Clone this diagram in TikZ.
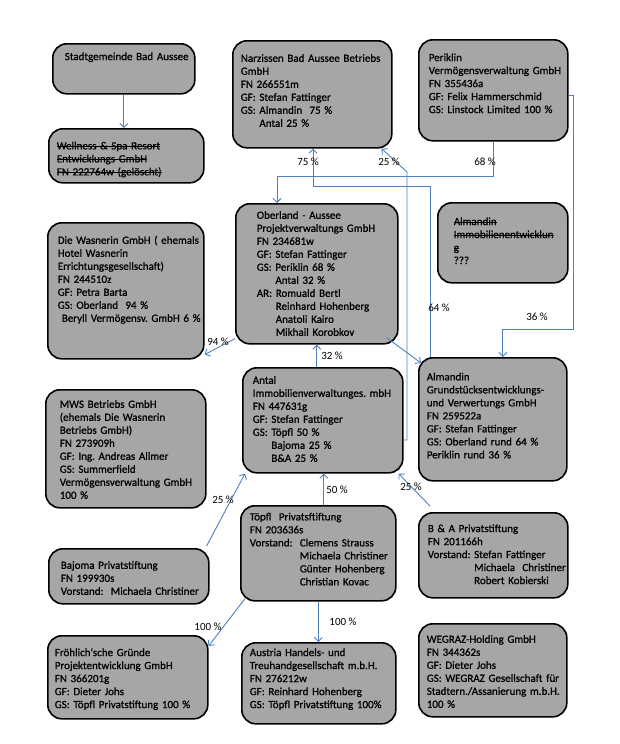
\documentclass[tikz,border=0pt]{standalone}
\usepackage{fontspec}
\setmainfont{Carlito}[BoldFont=Carlito, BoldFeatures={FakeBold=0.9}]
\usetikzlibrary{arrows.meta}
\frenchspacing

\definecolor{boxgray}{RGB}{166,166,166}
\definecolor{linkblue}{RGB}{79,129,189}

% lines of a box, never wrapped
\newcommand{\rows}[1]{\begin{tabular}[t]{@{}l@{}}#1\end{tabular}}
% struck-out text
\newsavebox{\strikebox}
\newcommand{\strike}[1]{\sbox{\strikebox}{#1}\rlap{\rule[2.9pt]{\wd\strikebox}{0.7pt}}\usebox{\strikebox}}

\begin{document}
\begin{tikzpicture}[x=1pt, y=-1pt,
  firm/.style={draw=black, line width=1.6pt, fill=boxgray, rounded corners=14pt,
    anchor=north west, inner ysep=0pt, align=left, font=\fontsize{11}{13}\selectfont\bfseries},
  boxdim/.style n args={4}{text width=#1, inner xsep=#2, text height=#3, text depth=#4},
  share/.style={draw=linkblue, line width=0.9pt, -{Straight Barb[length=4pt, width=8pt]}},
  pct/.style={font=\fontsize{11}{13}\selectfont, inner sep=0pt}]

\fill[white] (0,0) rectangle (619,744);

% top row
\node[firm, boxdim={118pt}{12pt}{16.3pt}{33.7pt}] (stadt) at (52,43)
  {\rows{Stadtgemeinde Bad Aussee}};
\node[firm, boxdim={139pt}{8pt}{20.6pt}{33.4pt}] (well) at (48,128)
  {\rows{\strike{Wellness \& Spa Resort}\\ \strike{Entwicklungs GmbH}\\ \strike{FN 222764w (gelöscht)}}};
\node[firm, boxdim={143pt}{8pt}{21pt}{86pt}] (narz) at (232,40)
  {\rows{Narzissen Bad Aussee Betriebs\\ GmbH\\ FN 266551m\\ GF: Stefan Fattinger\\
   GS: Almandin~~75 \%\\ \phantom{GS: }Antal 25 \%}};
\node[firm, boxdim={129pt}{10pt}{21.3pt}{79.7pt}] (peri) at (418,39)
  {\rows{Periklin\\ Vermögensverwaltung GmbH\\ FN 355436a\\ GF: Felix Hammerschmid\\
   GS: Linstock Limited 100 \%}};
\node[firm, boxdim={98pt}{16pt}{22.3pt}{57.7pt}] (almimmo) at (437,202)
  {\rows{\strike{Almandin}\\ \strike{Immobilienentwicklun}\\ \strike{g}\\ ???}};

% middle
\node[firm, boxdim={136pt}{10pt}{21pt}{115pt}] (wasn) at (47,222)
  {\rows{Die Wasnerin GmbH ( ehemals\\ Hotel Wasnerin\\ Errichtungsgesellschaft)\\ FN 244510z\\
   GF: Petra Barta\\ GS: Oberland~~94 \%\\ \hspace*{4pt}Beryll Vermögensv. GmbH 6 \%}};
\node[firm, boxdim={120pt}{21pt}{15pt}{125pt}] (ober) at (235,203)
  {\rows{Oberland - Aussee\\ Projektverwaltungs GmbH\\ FN 234681w\\ GF: Stefan Fattinger\\
   GS: Periklin 68 \%\\ \phantom{GS: }Antal 32 \%\\ AR: Romuald Bertl\\
   \phantom{AR: }Reinhard Hohenberg\\ \phantom{AR: }Anatoli Kairo\\ \phantom{AR: }Mikhail Korobkov}};
\node[firm, boxdim={140pt}{10pt}{16pt}{89pt}] (antal) at (242,367)
  {\rows{Antal\\ Immobilienverwaltunges. mbH\\ FN 447631g\\ GF: Stefan Fattinger\\
   GS: Töpfl 50 \%\\ \phantom{GS: }Bajoma 25 \%\\ \phantom{GS: }B\&A 25 \%}};
\node[firm, boxdim={132pt}{8pt}{22.6pt}{100.4pt}] (alm) at (418,357)
  {\rows{Almandin\\ Grundstücksentwicklungs-\\ und Verwertungs GmbH\\ FN 259522a\\
   GF: Stefan Fattinger\\ GS: Oberland rund 64 \%\\ Periklin rund 36 \%}};
\node[firm, boxdim={132pt}{14pt}{18pt}{100pt}] (mws) at (45,389)
  {\rows{MWS Betriebs GmbH\\ (ehemals Die Wasnerin\\ Betriebs GmbH)\\ FN 273909h\\
   GF: Ing. Andreas Allmer\\ GS: Summerfield\\ Vermögensverwaltung GmbH\\ 100 \%}};

% bottom
\node[firm, boxdim={137pt}{9pt}{14.6pt}{80.4pt}] (toepfl) at (240,505)
  {\rows{Töpfl~~Privatsftiftung\\ FN 203636s\\ Vorstand:~~Clemens Strauss\\
   \phantom{Vorstand:~~}Michaela Christiner\\ \phantom{Vorstand:~~}Günter Hohenberg\\
   \phantom{Vorstand:~~}Christian Kovac}};
\node[firm, boxdim={131pt}{9pt}{19.3pt}{65.7pt}] (ba) at (418,512)
  {\rows{B \& A Privatstiftung\\ FN 201166h\\ Vorstand: Stefan Fattinger\\
   \phantom{Vorstand: }Michaela~~Christiner\\ \phantom{Vorstand: }Robert Kobierski}};
\node[firm, boxdim={136pt}{12pt}{20pt}{35pt}] (bajoma) at (48,548)
  {\rows{Bajoma Privatstiftung\\ FN 199930s\\ Vorstand:~~Michaela Christiner}};
\node[firm, boxdim={146pt}{7pt}{20.3pt}{62.7pt}] (froe) at (47,635)
  {\rows{Fröhlich‘sche Gründe\\ Projektentwicklung GmbH\\ FN 366201g\\ GF: Dieter Johs\\
   GS: Töpfl Privatstiftung 100 \%}};
\node[firm, boxdim={138pt}{8pt}{13.3pt}{67.7pt}] (austria) at (241,642)
  {\rows{Austria Handels- und\\ Treuhandgesellschaft m.b.H.\\ FN 276212w\\
   GF: Reinhard Hohenberg\\ GS: Töpfl Privatstiftung 100\%}};
\node[firm, boxdim={132pt}{8pt}{19pt}{74pt}] (wegraz) at (418,623)
  {\rows{WEGRAZ-Holding GmbH\\ FN 344362s\\ GF: Dieter Johs\\ GS: WEGRAZ Gesellschaft für\\
   Stadtern./Assanierung m.b.H.\\ 100 \%}};

% bend points of the elbow connectors
\coordinate (j68) at (277,176);
\coordinate (j75) at (313,186);
\coordinate (j25) at (407,172);
\coordinate (j36) at (573,329);

% ownership arrows
\draw[share] (stadt.south) -- (stadt.south |- well.north);
\draw[share] (peri.south) |- (j68) -- (j68 |- ober.north);
\draw[share] ([xshift=12pt]alm.north west) |- (j75) -- (j75 |- narz.south);
\draw[share] (antal.east |- 0,440) -| (j25) -- ([xshift=-11pt]narz.south east);
\draw[share] (peri.east |- 0,95) -| (j36) -| ([xshift=10pt]alm.north);
\draw[share] ([yshift=6pt]ober.south west) -- ([yshift=5pt]wasn.south east);
\draw[share] ([xshift=-6pt]antal.north) -- ([xshift=-6pt]antal.north |- ober.south);
\draw[share] ([shift={(-12pt,7pt)}]ober.south east) -- ([shift={(3pt,-6pt)}]alm.north west);
\draw[share] ([xshift=5.5pt]toepfl.north) -- ([xshift=5.5pt]toepfl.north |- antal.south);
\draw[share] ([shift={(-3pt,2pt)}]bajoma.north east) -- ([xshift=3pt]antal.south west);
\draw[share] ([shift={(12pt,6pt)}]ba.north west) -- ([xshift=-5pt]antal.south east);
\draw[share] ([shift={(5pt,3pt)}]toepfl.south west) -- ([yshift=-11pt]froe.north east);
\draw[share] (toepfl.south) -- (toepfl.south |- austria.north);

% shares
\node[pct] (p75) at (308,162) {75 \%};
\node[pct] (p25n) at (389,162) {25 \%};
\node[pct] (p68) at (485,162) {68 \%};
\node[pct] (p36) at (537,317) {36 \%};
\node[pct] (p64) at (439,308) {64 \%};
\node[pct] (p94) at (218,342) {94 \%};
\node[pct] (p32) at (332,356) {32 \%};
\node[pct] (p50) at (337,490) {50 \%};
\node[pct] (p25b) at (223,500) {25 \%};
\node[pct] (p25a) at (411,487) {25 \%};
\node[pct] (p100f) at (208,627) {100 \%};
\node[pct] (p100a) at (343,622) {100 \%};
\end{tikzpicture}
\end{document}
